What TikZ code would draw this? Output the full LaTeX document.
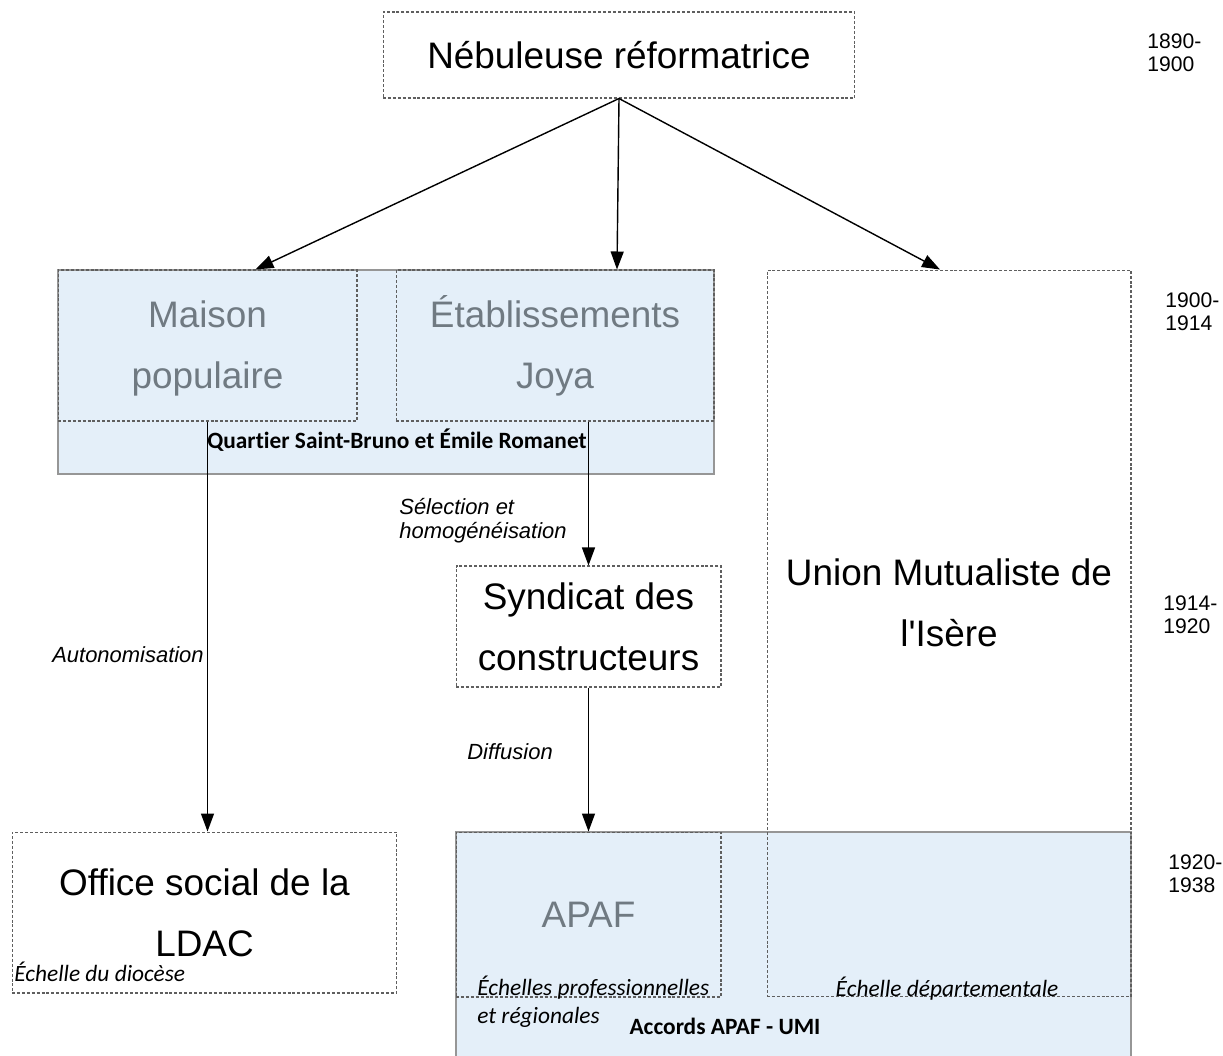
\documentclass[tikz,border=0pt]{standalone}
\usepackage{fontspec}
\setmainfont{Liberation Sans}
\newfontfamily\calibri[Ligatures=NoCommon]{Carlito}
\usetikzlibrary{arrows.meta, positioning}
\definecolor{hazegrey}{RGB}{112,122,130}
\definecolor{zoneblue}{RGB}{228,239,249}
\definecolor{zoneedge}{RGB}{150,150,150}
\definecolor{dashgrey}{RGB}{95,95,95}

\begin{document}
\begin{tikzpicture}[
    x=0.02cm, y=-0.02cm,
    box/.style={draw=dashgrey, line width=0.6pt, dash pattern=on 1.7pt off 1.1pt,
                inner sep=0pt, align=center, font=\fontsize{21}{34.6}\selectfont},
    zone/.style={draw=zoneedge, line width=1.1pt, fill=zoneblue, inner sep=0pt},
    big/.style={align=center, inner sep=0pt, font=\fontsize{21}{34.6}\selectfont},
    arr/.style={-{Triangle[length=0.36cm, width=0.26cm]}, line width=0.8pt},
    note/.style={font=\itshape\fontsize{12.5}{13.5}\selectfont, align=left, inner sep=0pt},
    echelle/.style={font=\calibri\itshape\fontsize{13.3}{16}\selectfont, align=left, inner sep=0pt},
    lieu/.style={font=\calibri\bfseries\fontsize{13.3}{14}\selectfont, inner sep=0pt},
    date/.style={font=\fontsize{12}{13}\selectfont, align=left, anchor=west, inner sep=0pt}
  ]
  \useasboundingbox (0,0) rectangle (1223,1055);

  \node[zone, minimum width=13.12cm, minimum height=4.08cm] (quartier) at (386,372) {};
  \node[zone, minimum width=13.5cm, minimum height=4.6cm] (accords) at (793.5,947) {};

  \node[box] (neb) at (619,55) [minimum width=9.44cm, minimum height=1.72cm] {Nébuleuse réformatrice};
  \node[box, text=hazegrey, minimum width=5.98cm, minimum height=3.02cm] (maison) at (207.5,345.5) {\vphantom{É}Maison\\populaire};
  \node[box, text=hazegrey, minimum width=6.36cm, minimum height=3.02cm] (etab) at (555,345.5) {Établissements\\Joya};
  \node[box, minimum width=7.28cm, minimum height=14.54cm] (union) at (949,633.5) {};
  \node[big] (uniontxt) at (949,603) {Union Mutualiste de\\l\textquotesingle Isère};
  \node[box, minimum width=5.3cm, minimum height=2.42cm] (syndicat) at (588.5,626.5) {Syndicat des\\constructeurs};
  \node[box, minimum width=7.7cm, minimum height=3.22cm] (office) at (204.5,912.5) {Office social de la\\LDAC};
  \node[box, text=hazegrey, minimum width=5.3cm, minimum height=3.3cm] (apaf) at (588.5,914.5) {APAF};

  \node[lieu] (quartiertxt) at (397,440) {Quartier Saint-Bruno et Émile Romanet};
  \node[lieu] (accordstxt) at (725,1026) {Accords APAF - UMI};
  \node[echelle, anchor=west] (diocese) at (14,972) {Échelle du diocèse};
  \node[echelle, anchor=west] (profs) at (477,1002) {Échelles professionnelles\\et régionales};
  \node[echelle] (dept) at (947,989) {Échelle départementale};

  \node[note] (autonom) at (128,655) {Autonomisation};
  \node[note, anchor=west] (selection) at (399,521) {Sélection et\\homogénéisation};
  \node[note] (diffusion) at (510,752) {Diffusion};

  \node[date] (d1) at (1147,53) {1890-\\1900};
  \node[date] (d2) at (1165,312) {1900-\\1914};
  \node[date] (d3) at (1163,615) {1914-\\1920};
  \node[date] (d4) at (1168,874) {1920-\\1938};

  \draw[arr] (neb.south) -- ([xshift=0.96cm]maison.north);
  \draw[arr] (neb.south) -- ([xshift=1.24cm]etab.north);
  \draw[arr] (neb.south) -- ([xshift=-0.18cm]union.north);
  \draw[arr] (maison.south) -- (maison.south |- office.north);
  \draw[arr] (syndicat.north |- etab.south) -- (syndicat.north);
  \draw[arr] (syndicat.south) -- (apaf.north);
\end{tikzpicture}
\end{document}
